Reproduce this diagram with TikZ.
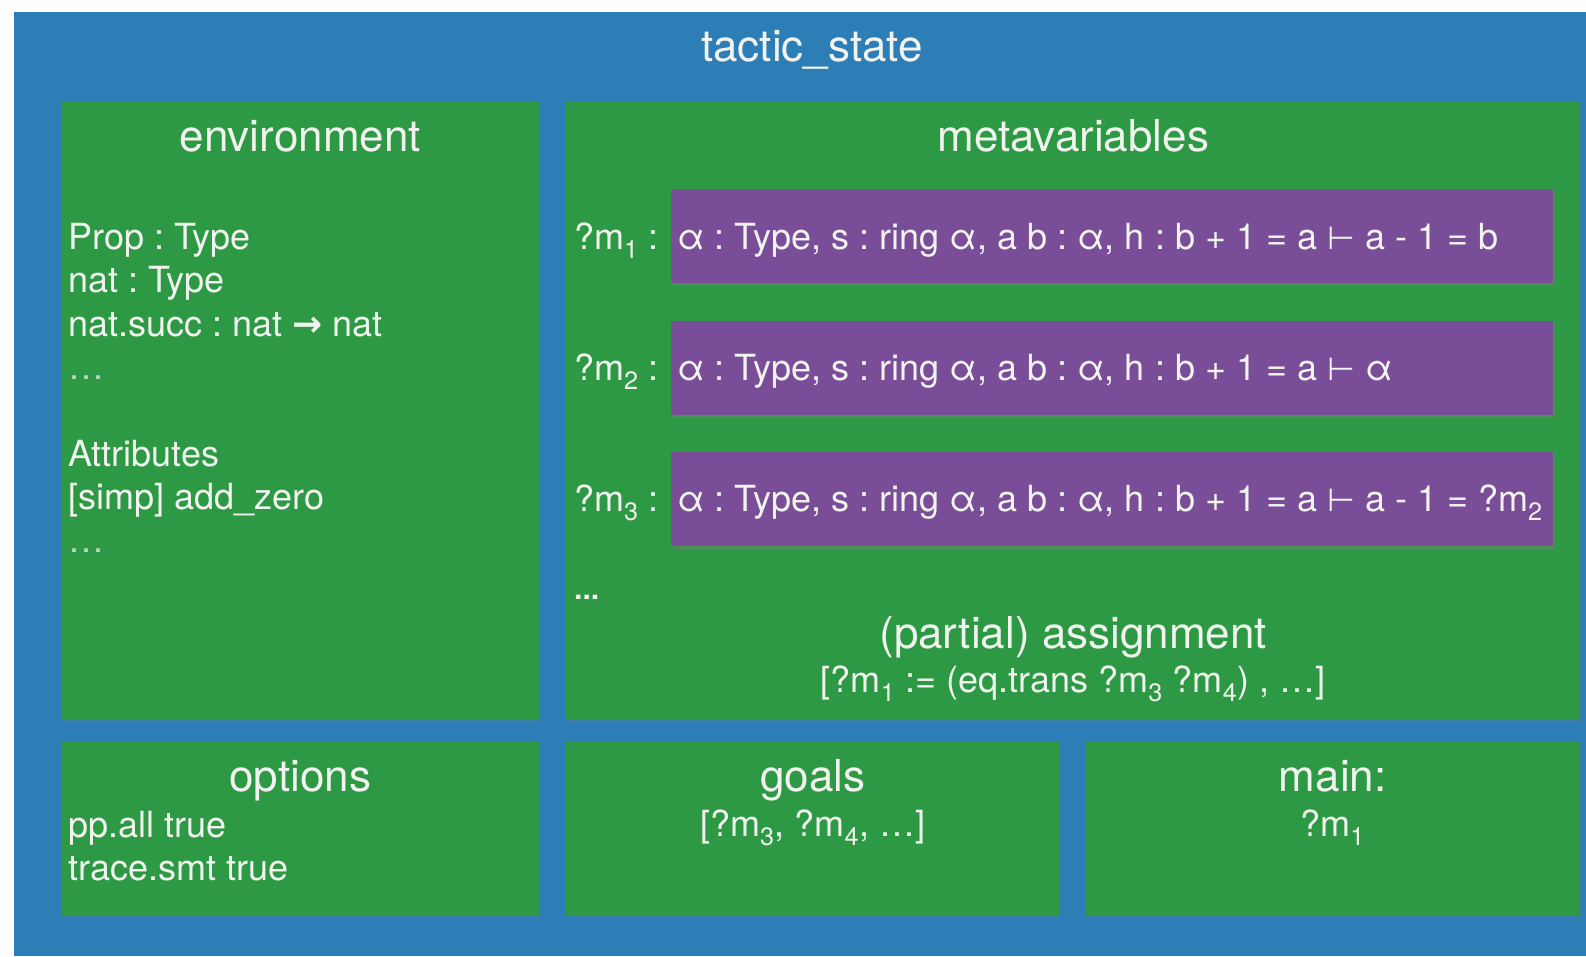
\documentclass[tikz,border=0pt]{standalone}
\usepackage{fontspec}
\setmainfont{TeX Gyre Heros}
\newfontfamily\symfont{DejaVu Sans}
\usetikzlibrary{positioning,shadows}

\definecolor{stateblue}{RGB}{45,125,182}
\definecolor{panelgreen}{RGB}{46,153,68}
\definecolor{mvpurple}{RGB}{122,77,152}
\definecolor{chalk}{RGB}{240,243,238}

\tikzset{
  panel/.style={fill=panelgreen, anchor=north west, inner sep=0pt,
    drop shadow={shadow xshift=1pt, shadow yshift=-2pt, opacity=.25}},
  mvbox/.style={fill=mvpurple, anchor=north west, inner sep=0pt,
    minimum width=882pt, minimum height=94pt,
    drop shadow={shadow xshift=2pt, shadow yshift=-3pt, opacity=.35}},
  heading/.style={text=chalk, inner sep=0pt, anchor=base, font=\fontsize{44}{50}\selectfont},
  body/.style={text=chalk, inner sep=0pt, anchor=base west, font=\fontsize{36}{43}\selectfont},
  small/.style={text=chalk, inner sep=0pt, anchor=base, font=\fontsize{36}{43}\selectfont},
}

\newcommand{\mv}[1]{?m\textsubscript{#1}}
\newcommand{\turnstile}{{\symfont\fontsize{32}{40}\selectfont ⊢}}
\newcommand{\fnarrow}{{\symfont\bfseries\fontsize{36}{40}\selectfont →}}
\frenchspacing

\begin{document}
\begin{tikzpicture}[x=1pt,y=-1pt]
  \useasboundingbox (0,0) rectangle (1586,956);
  \fill[white] (0,0) rectangle (1586,956);

  % outer state
  \node[fill=stateblue, anchor=north west, inner sep=0pt,
    minimum width=1572pt, minimum height=944pt] (state) at (14,12) {};
  \node[heading] (statetitle) at (812,61) {tactic\_state};

  % panels
  \node[panel, minimum width=478pt, minimum height=619pt] (env) at (61,101) {};
  \node[panel, minimum width=1014pt, minimum height=619pt] (meta) at (566,101) {};
  \node[panel, minimum width=478pt, minimum height=174pt] (opts) at (61,741) {};
  \node[panel, minimum width=493pt, minimum height=174pt] (goals) at (566,741) {};
  \node[panel, minimum width=495pt, minimum height=174pt] (mainbox) at (1085,741) {};

  % environment
  \node[heading] (envtitle) at (env.north |- 0,151) {environment};
  \foreach \y/\txt in {249/Prop : Type, 292/nat : Type,
      336/nat.succ : nat \fnarrow{} nat, 466/Attributes,
      509/{[simp] add\_zero}}
    \node[body] at (68,\y) {\txt};
  \node[body, text=chalk!70!panelgreen] (envdotsa) at (68,379) {\dots};
  \node[body, text=chalk!70!panelgreen] (envdotsb) at (68,552) {\dots};

  % metavariables
  \node[heading] (metatitle) at (meta.north |- 0,151) {metavariables};
  \node[mvbox] (mva) at (671,189) {};
  \node[mvbox] (mvb) at (671,321) {};
  \node[mvbox] (mvc) at (671,452) {};
  \node[body] (laba) at (574,249) {\mv{1} :};
  \node[body] (labb) at (574,380) {\mv{2} :};
  \node[body] (labc) at (574,511) {\mv{3} :};
  \node[body] (ctxa) at (677,249) {α : Type, s : ring α, a b : α, h : b + 1 = a \turnstile{} a - 1 = b};
  \node[body] (ctxb) at (677,380) {α : Type, s : ring α, a b : α, h : b + 1 = a \turnstile{} α};
  \node[body] (ctxc) at (677,511) {α : Type, s : ring α, a b : α, h : b + 1 = a \turnstile{} a - 1 = \mv{2}};
  \node[body, font=\fontsize{30}{32}\selectfont\bfseries] (mvdots) at (574,599) {...};
  \node[heading] (assigntitle) at (meta.north |- 0,648) {(partial) assignment};
  \node[small] (assign) at (meta.north |- 0,692) {[\mv{1} := (eq.trans \mv{3} \mv{4}) , \dots]};

  % bottom row
  \node[heading] (optstitle) at (opts.north |- 0,791) {options};
  \node[body] (ppall) at (68,837) {pp.all true};
  \node[body] (smt) at (68,880) {trace.smt true};
  \node[heading] (goalstitle) at (goals.north |- 0,791) {goals};
  \node[small] (goallist) at (goals.north |- 0,836) {[\mv{3}, \mv{4}, \dots]};
  \node[heading] (maintitle) at (mainbox.north |- 0,791) {main:};
  \node[small] (maingoal) at (mainbox.north |- 0,836) {\mv{1}};
\end{tikzpicture}
\end{document}
